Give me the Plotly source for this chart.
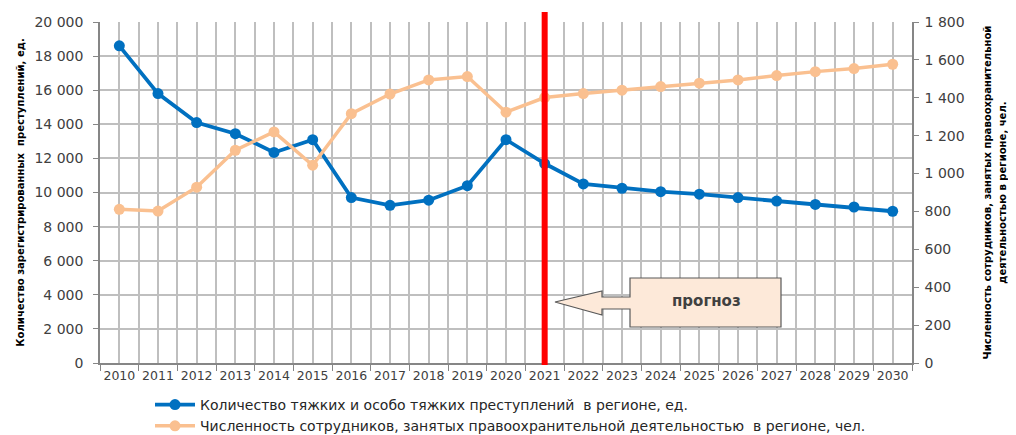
import plotly.graph_objects as go

years = list(range(2010, 2031))
crimes = [18600, 15800, 14100, 13450, 12350, 13100, 9700, 9250, 9550, 10400, 13100,
          11700, 10500, 10250, 10050, 9900, 9700, 9500, 9300, 9150, 8900]
staff = [811, 802, 928, 1123, 1220, 1044, 1316, 1420, 1494, 1512, 1324,
         1401, 1422, 1440, 1459, 1477, 1494, 1517, 1538, 1554, 1577]
forecast_year = 2021
name_crimes = "Количество тяжких и особо тяжких преступлений  в регионе, ед."
name_staff = "Численность сотрудников, занятых правоохранительной деятельностью  в регионе, чел."
left_title = "<b>Количество зарегистрированных  преступлений, ед.</b>"
right_title = "<b>Численность сотрудников, занятых правоохранительной<br>деятельностью в регионе, чел.</b>"
left_ticks = list(range(0, 20001, 2000))
right_ticks = list(range(0, 1801, 200))

# page body has an 8px margin; layout is specified in screen pixels
OFF = 8
W, H = 1016 - OFF, 435 - OFF
SL, SR, ST, SB = 100, 912, 22, 363   # plot area on screen

def px(x):
    return (x - SL) / (SR - SL)

def py(y):
    return (SB - y) / (SB - ST)

def fmt(v):
    return f"{v:,}".replace(",", " ")

BLUE = "#0070C0"
ORANGE = "#FAC090"
GRID = "#BFBFBF"
AX = "#868686"
narrow = "DejaVu Sans Condensed, Liberation Sans Narrow, sans-serif"
ytickfont = dict(family="DejaVu Sans, Verdana, sans-serif", size=14, color="#404040")
xtickfont = dict(family="DejaVu Sans, Verdana, sans-serif", size=12.5, color="#404040")

fig = go.Figure()
fig.add_trace(go.Scatter(x=years, y=crimes, name=name_crimes, mode="lines+markers",
                         line=dict(color=BLUE, width=3.8), marker=dict(size=11, color=BLUE)))
fig.add_trace(go.Scatter(x=years, y=staff, name=name_staff, mode="lines+markers", yaxis="y2",
                         line=dict(color=ORANGE, width=3.5), marker=dict(size=11, color=ORANGE)))

fig.update_layout(
    width=W, height=H,
    margin=dict(l=SL - OFF, r=W - (SR - OFF), t=ST - OFF, b=H - (SB - OFF), autoexpand=False),
    paper_bgcolor="white", plot_bgcolor="white",
    showlegend=True,
    legend=dict(x=px(150), y=py(389), xanchor="left", yanchor="top",
                font=dict(family="DejaVu Sans, Verdana, sans-serif", size=14, color="#262626"),
                bgcolor="rgba(0,0,0,0)", tracegroupgap=0, itemwidth=40),
    xaxis=dict(range=[years[0] - 0.5, years[-1] + 0.5], tickmode="array", tickvals=years,
               ticktext=[str(y) for y in years], ticks="", showgrid=True, gridcolor=GRID, gridwidth=1.5,
               minor=dict(tickmode="linear", tick0=years[0] - 0.5, dtick=1, showgrid=True,
                          gridcolor=GRID, gridwidth=1.5, ticks="outside", ticklen=6, tickcolor=AX),
               showline=True, linecolor=AX, linewidth=1.5, tickfont=xtickfont, zeroline=False,
               automargin=False),
    yaxis=dict(range=[0, 20000], tickmode="array", tickvals=left_ticks,
               ticktext=[fmt(v) for v in left_ticks], showgrid=True, gridcolor=GRID, gridwidth=1.5,
               showline=True, linecolor=AX, linewidth=1.5, ticks="outside", ticklen=5, tickcolor=AX,
               tickfont=ytickfont, zeroline=False, automargin=False, ticklabelstandoff=7,
               title=dict(text=left_title, font=dict(family=narrow, size=11.2, color="black"), standoff=8)),
    yaxis2=dict(range=[0, 1800], overlaying="y", side="right", tickmode="array", tickvals=right_ticks,
                ticktext=[fmt(v) for v in right_ticks], showgrid=False, showline=True, linecolor=AX,
                linewidth=1.5, ticks="outside", ticklen=5, tickcolor=AX, tickfont=ytickfont, zeroline=False,
                automargin=False, ticklabelstandoff=3,
                title=dict(text=right_title, font=dict(family=narrow, size=11.2, color="black"), standoff=20)),
)

fig.add_shape(type="line", xref="x", yref="paper", x0=forecast_year, x1=forecast_year,
              y0=py(365), y1=py(12), line=dict(color="#FF0000", width=6), layer="above")

pts = [(555, 302), (602, 291), (602, 297), (630, 297), (630, 278), (781, 278), (781, 327),
       (630, 327), (630, 309), (602, 309), (602, 315)]
path = "M " + " L ".join(f"{px(a):.5f},{py(b):.5f}" for a, b in pts) + " Z"
fig.add_shape(type="path", xref="paper", yref="paper", path=path,
              fillcolor="#FDE9D9", line=dict(color="#595959", width=1.2), layer="above")
fig.add_annotation(xref="paper", yref="paper", x=px(706), y=py(301), xanchor="center", yanchor="middle",
                   text="<b>прогноз</b>", showarrow=False,
                   font=dict(family="DejaVu Sans, Verdana, sans-serif", size=15, color="#404040"))

fig.write_html("out.html")
